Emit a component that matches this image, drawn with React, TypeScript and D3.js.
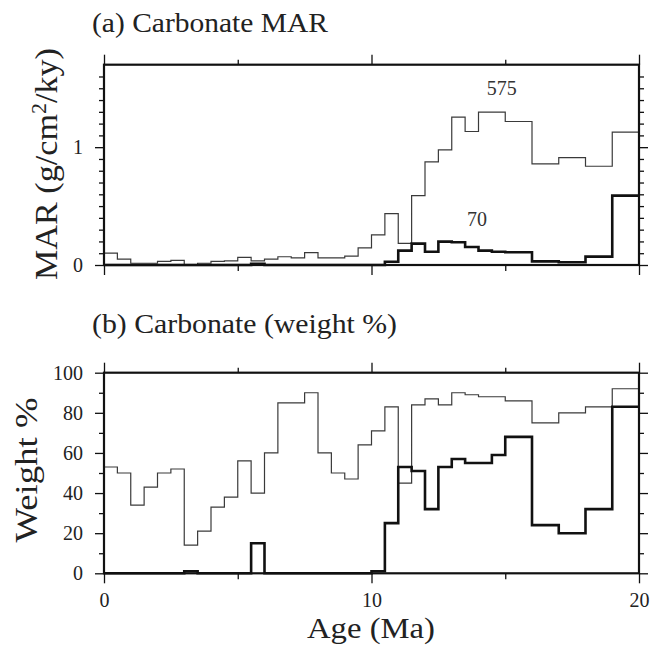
import { useEffect, useRef } from 'react';
import * as d3 from 'd3';

// bin start ages (Ma), 0.5 Ma bins
const ageBins = [
  0, 0.5, 1, 1.5, 2, 2.5, 3, 3.5, 4, 4.5, 5, 5.5, 6, 6.5, 7, 7.5, 8, 8.5, 9, 9.5,
  10, 10.5, 11, 11.5, 12, 12.5, 13, 13.5, 14, 14.5, 15, 15.5, 16, 16.5, 17, 17.5, 18, 18.5, 19, 19.5,
];

// (a) carbonate MAR, g/cm2/ky
const mar575 = [
  0.1, 0.05, 0.015, 0.015, 0.03, 0.04, 0.003, 0.015, 0.03, 0.035,
  0.065, 0.035, 0.05, 0.07, 0.06, 0.105, 0.06, 0.06, 0.075, 0.145,
  0.255, 0.436, 0.184, 0.589, 0.875, 0.977, 1.255, 1.133, 1.297, 1.297,
  1.218, 1.218, 0.858, 0.858, 0.912, 0.912, 0.838, 0.838, 1.127, 1.127,
];
const mar70 = [
  0, 0, 0, 0, 0, 0, 0, 0, 0, 0,
  0, 0.01, 0, 0, 0, 0, 0, 0, 0, 0,
  0, 0.028, 0.122, 0.181, 0.113, 0.198, 0.193, 0.153, 0.122, 0.113,
  0.108, 0.108, 0.031, 0.031, 0.023, 0.023, 0.071, 0.071, 0.589, 0.589,
];

// (b) carbonate weight %
const wt575 = [
  53, 50, 34, 43, 50, 52, 14, 21, 33, 38,
  56, 40, 60, 85, 85, 90, 60, 50, 47, 64,
  71, 83, 45, 84, 87, 84, 90, 89, 88, 88,
  86, 86, 75, 75, 80, 80, 83, 83, 92, 92,
];
const wt70 = [
  0, 0, 0, 0, 0, 0, 1, 0, 0, 0,
  0, 15, 0, 0, 0, 0, 0, 0, 0, 0,
  1, 25, 53, 51, 32, 53, 57, 55, 55, 59,
  68, 68, 24, 24, 20, 20, 32, 32, 83, 83,
];

const ageMajor = [0, 10, 20];
const ageMinor = [5, 15];
const marMajor = [0, 1];
const marMinor = [0.1, 0.2, 0.3, 0.4, 0.5, 0.6, 0.7, 0.8, 0.9, 1.1, 1.2, 1.3, 1.4, 1.5, 1.6];
const wtMajor = [0, 20, 40, 60, 80, 100];
const wtMinor = [10, 30, 50, 70, 90];

const FONT = "'Liberation Serif', 'Times New Roman', Times, 'DejaVu Serif', serif";

function App() {
  const svgRef = useRef(null);

  useEffect(() => {
    const svg = d3.select(svgRef.current);
    svg.selectAll('*').remove();

    const x = d3.scaleLinear().domain([0, 20]).range([104, 639]);
    const yA = d3.scaleLinear().domain([0, 1.7]).range([265, 64.7]);
    const yB = d3.scaleLinear().domain([0, 100]).range([573.3, 372.7]);

    // step points: each bin start plus the closing edge at 20 Ma
    const steps = (vals) => {
      const pts = ageBins.map((a, i) => [a, vals[i]]);
      pts.push([20, vals[vals.length - 1]]);
      return pts;
    };

    const styleAxis = (g, labels) => {
      g.attr('font-family', null).attr('font-size', null);
      g.select('.domain').remove();
      g.selectAll('line').attr('stroke', '#111').attr('stroke-width', 1.3);
      g.selectAll('text')
        .style('font-family', FONT)
        .style('font-size', '20px')
        .attr('fill', '#222');
      if (!labels) g.selectAll('text').remove();
    };

    const panel = (y, yMajor, yMinor, showX, series) => {
      const [x0, x1] = x.range();
      const [yb, yt] = y.range();

      // minor/major ticks all round, outward
      svg.append('g').attr('transform', `translate(${x0},0)`)
        .call(d3.axisLeft(y).tickValues(yMinor).tickSize(5).tickFormat(() => ''))
        .call((g) => styleAxis(g, false));
      svg.append('g').attr('transform', `translate(${x0},0)`)
        .call(d3.axisLeft(y).tickValues(yMajor).tickSize(9).tickPadding(12).tickFormat(d3.format('d')))
        .call((g) => styleAxis(g, true));
      svg.append('g').attr('transform', `translate(${x1},0)`)
        .call(d3.axisRight(y).tickValues(yMinor).tickSize(5).tickFormat(() => ''))
        .call((g) => styleAxis(g, false));
      svg.append('g').attr('transform', `translate(${x1},0)`)
        .call(d3.axisRight(y).tickValues(yMajor).tickSize(9).tickFormat(() => ''))
        .call((g) => styleAxis(g, false));

      svg.append('g').attr('transform', `translate(0,${yt})`)
        .call(d3.axisTop(x).tickValues(ageMinor).tickSize(5).tickFormat(() => ''))
        .call((g) => styleAxis(g, false));
      svg.append('g').attr('transform', `translate(0,${yt})`)
        .call(d3.axisTop(x).tickValues(ageMajor).tickSize(10).tickFormat(() => ''))
        .call((g) => styleAxis(g, false));
      svg.append('g').attr('transform', `translate(0,${yb})`)
        .call(d3.axisBottom(x).tickValues(ageMinor).tickSize(6).tickFormat(() => ''))
        .call((g) => styleAxis(g, false));
      svg.append('g').attr('transform', `translate(0,${yb})`)
        .call(d3.axisBottom(x).tickValues(ageMajor).tickSize(10).tickPadding(9.5).tickFormat(d3.format('d')))
        .call((g) => styleAxis(g, showX));

      const line = d3.line()
        .x((d) => x(d[0]))
        .y((d) => y(d[1]))
        .curve(d3.curveStepAfter);

      svg.append('path')
        .attr('d', line(steps(series[0])))
        .attr('fill', 'none')
        .attr('stroke', '#3a3a3a')
        .attr('stroke-width', 1.2);
      svg.append('path')
        .attr('d', line(steps(series[1])))
        .attr('fill', 'none')
        .attr('stroke', '#111')
        .attr('stroke-width', 2.6)
        .attr('stroke-linejoin', 'miter');

      svg.append('rect')
        .attr('x', x0)
        .attr('y', yt)
        .attr('width', x1 - x0)
        .attr('height', yb - yt)
        .attr('fill', 'none')
        .attr('stroke', '#111')
        .attr('stroke-width', 2.2);
    };

    panel(yA, marMajor, marMinor, false, [mar575, mar70]);
    panel(yB, wtMajor, wtMinor, true, [wt575, wt70]);

    const label = (sel, size) =>
      sel.style('font-family', FONT).style('font-size', `${size}px`).attr('fill', '#222');

    // series labels in panel (a)
    svg.append('text')
      .attr('x', 501.7).attr('y', yA(1.44))
      .attr('text-anchor', 'middle')
      .call((t) => label(t, 20))
      .attr('fill', '#333')
      .text('575');
    svg.append('text')
      .attr('x', 477).attr('y', yA(0.33))
      .attr('text-anchor', 'middle')
      .call((t) => label(t, 20))
      .attr('fill', '#333')
      .text('70');

    // titles
    svg.append('text')
      .attr('x', 92).attr('y', 32)
      .call((t) => label(t, 28))
      .attr('textLength', 236).attr('lengthAdjust', 'spacingAndGlyphs')
      .text('(a) Carbonate MAR');
    svg.append('text')
      .attr('x', 92).attr('y', 333)
      .call((t) => label(t, 28))
      .attr('textLength', 305).attr('lengthAdjust', 'spacingAndGlyphs')
      .text('(b) Carbonate (weight %)');

    // axis titles
    svg.append('text')
      .attr('x', 371).attr('y', 638)
      .attr('text-anchor', 'middle')
      .call((t) => label(t, 29))
      .attr('textLength', 128).attr('lengthAdjust', 'spacingAndGlyphs')
      .text('Age (Ma)');

    const marLabel = svg.append('text')
      .attr('transform', 'translate(57,164) rotate(-90)')
      .attr('text-anchor', 'middle')
      .call((t) => label(t, 31))
      .attr('textLength', 232).attr('lengthAdjust', 'spacingAndGlyphs');
    marLabel.append('tspan').text('MAR (g/cm');
    marLabel.append('tspan').attr('dy', -11).style('font-size', '20px').text('2');
    marLabel.append('tspan').attr('dy', 11).text('/ky)');

    svg.append('text')
      .attr('transform', 'translate(37,470) rotate(-90)')
      .attr('text-anchor', 'middle')
      .call((t) => label(t, 32))
      .attr('textLength', 145).attr('lengthAdjust', 'spacingAndGlyphs')
      .text('Weight %');
  }, []);

  return (
    <svg
      ref={svgRef}
      width={661}
      height={650}
      style={{ position: 'absolute', left: 0, top: 0, background: '#fff' }}
    />
  );
}

export default App;
